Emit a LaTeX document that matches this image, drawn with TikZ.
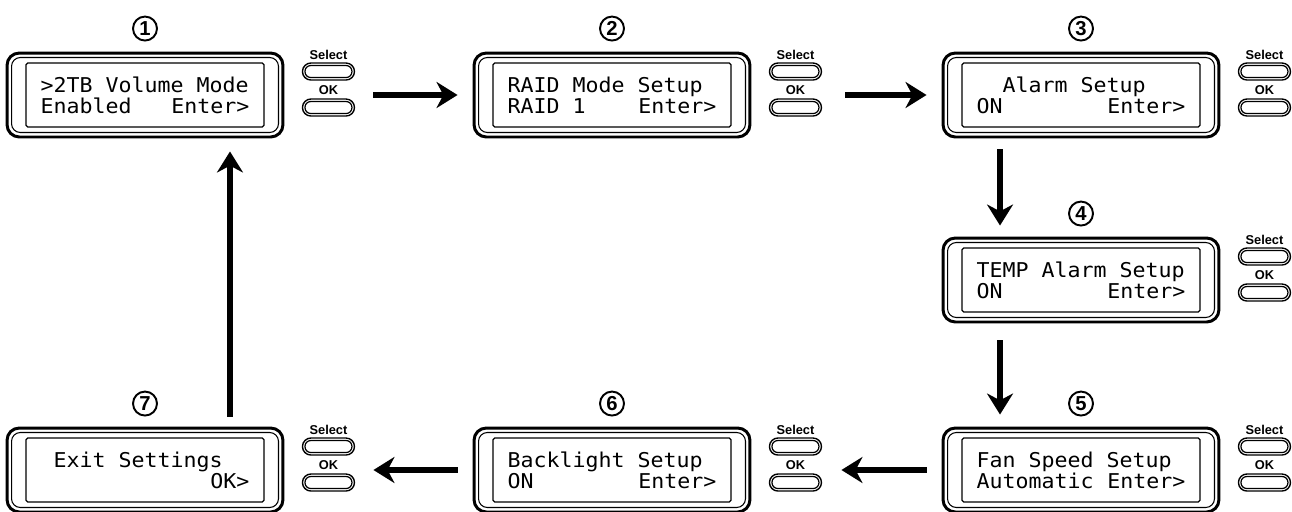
\documentclass[tikz,border=0pt]{standalone}
\usepackage{fontspec}
\setmainfont{Liberation Sans}
\newfontfamily\lcdfont{DejaVu Sans Mono}[FakeStretch=1.06]
\usetikzlibrary{arrows.meta,positioning,calc}

% one line of the display, 16 columns wide
\newcommand{\lcdrow}[1]{\makebox[4.18cm][l]{#1}}

\tikzset{
  lcd/.style={draw, line width=1.7pt, rounded corners=7pt,
    minimum width=5.52cm, minimum height=1.68cm, inner sep=0pt, align=left,
    font=\lcdfont\fontsize{11.6pt}{11.9pt}\selectfont,
    path picture={
      \draw[line width=0.6pt, rounded corners=5pt]
        ([shift={(4.5,4.5)}]path picture bounding box.north west) rectangle
        ([shift={(-4.5,-4.5)}]path picture bounding box.south east);
      \draw[line width=0.7pt, rounded corners=1pt]
        ([shift={(19,10)}]path picture bounding box.north west) rectangle
        ([shift={(-19,-10)}]path picture bounding box.south east);
    }},
  pill/.style={draw, line width=0.8pt, rounded corners=4.8pt,
    minimum width=1.04cm, minimum height=0.34cm, inner sep=0pt,
    path picture={
      \draw[line width=0.7pt, rounded corners=3.3pt]
        ([shift={(2.5,2.5)}]path picture bounding box.north west) rectangle
        ([shift={(-2.5,-2.5)}]path picture bounding box.south east);
    }},
  keylabel/.style={inner sep=0pt, font=\bfseries\fontsize{7.3pt}{8pt}\selectfont},
  num/.style={circle, draw, line width=1.1pt, minimum size=0.48cm, inner sep=0pt,
    font=\bfseries\fontsize{11.5pt}{12pt}\selectfont},
  flow/.style={draw, line width=0.12cm, -{Stealth[length=0.42cm, width=0.52cm]}}
}

\begin{document}
\begin{tikzpicture}[x=0.02cm, y=-0.02cm]
  \useasboundingbox (0,0) rectangle (1292,511);

  \node[lcd] (d1) at (145,95)   {\lcdrow{>2TB Volume Mode}\\\lcdrow{Enabled\hfill Enter>}};
  \node[lcd] (d2) at (612,95)   {\lcdrow{RAID Mode Setup}\\\lcdrow{RAID 1\hfill Enter>}};
  \node[lcd] (d3) at (1081,95)  {\lcdrow{\phantom{AA}Alarm Setup}\\\lcdrow{ON\hfill Enter>}};
  \node[lcd] (d4) at (1081,280) {\lcdrow{TEMP Alarm Setup}\\\lcdrow{ON\hfill Enter>}};
  \node[lcd] (d5) at (1081,470) {\lcdrow{Fan Speed Setup}\\\lcdrow{Automatic\hfill Enter>}};
  \node[lcd] (d6) at (612,470)  {\lcdrow{Backlight Setup}\\\lcdrow{ON\hfill Enter>}};
  \node[lcd] (d7) at (145,470)  {\lcdrow{\phantom{A}Exit Settings}\\\lcdrow{\hfill OK>}};

  \node[num, above=0.2cm of d1] (n1) {1};
  \node[num, above=0.2cm of d2] (n2) {2};
  \node[num, above=0.2cm of d3] (n3) {3};
  \node[num, above=0.2cm of d4] (n4) {4};
  \node[num, above=0.2cm of d5] (n5) {5};
  \node[num, above=0.2cm of d6] (n6) {6};
  \node[num, above=0.2cm of d7] (n7) {7};

  % Select / OK keys beside every display
  \foreach \d in {d1,d2,d3,d4,d5,d6,d7} {
    \node[keylabel] (\d-sl) at ($(\d.north east)+(44,3)$)  {Select};
    \node[pill]     (\d-sb) at ($(\d.north east)+(44,20)$) {};
    \node[keylabel] (\d-ol) at ($(\d.north east)+(44,38.5)$) {OK};
    \node[pill]     (\d-ob) at ($(\d.north east)+(44,56)$) {};
  }

  \draw[flow, shorten <=1.78cm, shorten >=0.3cm] (d1) -- (d2);
  \draw[flow, shorten <=1.88cm, shorten >=0.3cm] (d2) -- (d3);
  \draw[flow, shorten <=0.22cm, shorten >=0.22cm] ([xshift=-1.62cm]d3.south) -- ([xshift=-1.62cm]d4.north);
  \draw[flow, shorten <=0.34cm, shorten >=0.24cm] ([xshift=-1.62cm]d4.south) -- ([xshift=-1.62cm]d5.north);
  \draw[flow, shorten <=0.3cm, shorten >=1.8cm] (d5) -- (d6);
  \draw[flow, shorten <=0.3cm, shorten >=1.78cm] (d6) -- (d7);
  \draw[flow, shorten <=0.2cm, shorten >=0.26cm] ([xshift=1.7cm]d7.north) -- ([xshift=1.7cm]d1.south);
\end{tikzpicture}
\end{document}
